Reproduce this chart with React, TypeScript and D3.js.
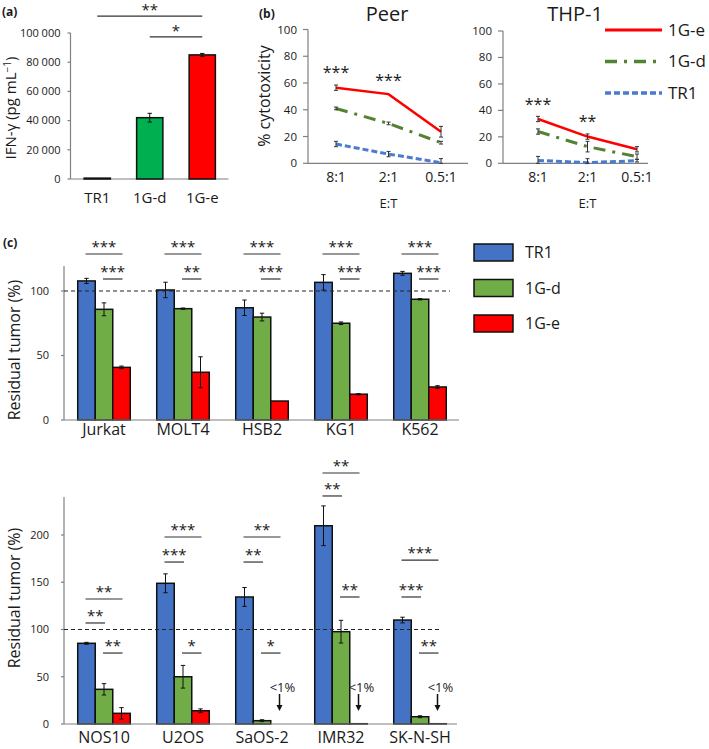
import React from 'react';
import * as d3 from 'd3';

// ---------- Panel (a) ----------
const aCategories = ['TR1', '1G-d', '1G-e'];
const aValues = [600, 42000, 85000];
const aErrors = [200, 3000, 1000];
const aTicks = [0, 20000, 40000, 60000, 80000, 100000];
const aColors = ['#FF0000', '#00B050', '#FF0000'];
const aSig = [
  { from: 0, to: 2, level: 111500, label: '**' },
  { from: 1, to: 2, level: 97300, label: '*' },
];

// ---------- Panel (b) ----------
const etRatios = ['8:1', '2:1', '0.5:1'];
const bTicks = [0, 20, 40, 60, 80, 100];
const peer1Ge = [56.5, 51.7, 23.6];
const peer1GeErr = [2, 0.5, 4];
const peer1Gd = [41, 29.8, 15.4];
const peer1GdErr = [1, 1, 1];
const peerTR1 = [14.4, 6.9, 0.5];
const peerTR1Err = [2, 2, 3];
const thp1Ge = [33.5, 20.2, 10.6];
const thp1GeErr = [2, 2, 2];
const thp1Gd = [24, 12.6, 5];
const thp1GdErr = [2, 4, 2];
const thpTR1 = [2.2, 0.5, 2];
const thpTR1Err = [3, 3, 1];
const peerStars = [
  { cat: '8:1', level: 69.6, label: '***' },
  { cat: '2:1', level: 63.7, label: '***' },
];
const thpStars = [
  { cat: '8:1', level: 46.6, label: '***' },
  { cat: '2:1', level: 33.7, label: '**' },
];

// ---------- Panel (c) ----------
const seriesNames = ['TR1', '1G-d', '1G-e'];
const seriesColors = ['#4472C4', '#70AD47', '#FF0000'];

const cTopLines = ['Jurkat', 'MOLT4', 'HSB2', 'KG1', 'K562'];
const cTopTR1 = [107.8, 100.8, 87, 106.7, 113.7];
const cTopTR1Err = [2, 6, 6, 6, 1.5];
const cTop1Gd = [85.8, 86.3, 79.8, 75, 93.6];
const cTop1GdErr = [5, 0.5, 3, 1, 0.5];
const cTop1Ge = [40.8, 37, 14.7, 20, 25.6];
const cTop1GeErr = [1, 12, 0, 0.5, 1];
const cTopTicks = [0, 50, 100];
const cTopSig = [
  { line: 'Jurkat', from: 0, to: 2, level: 128.7, label: '***' },
  { line: 'Jurkat', from: 1, to: 2, level: 109.3, label: '***' },
  { line: 'MOLT4', from: 0, to: 2, level: 128.7, label: '***' },
  { line: 'MOLT4', from: 1, to: 2, level: 109.3, label: '**' },
  { line: 'HSB2', from: 0, to: 2, level: 128.7, label: '***' },
  { line: 'HSB2', from: 1, to: 2, level: 109.3, label: '***' },
  { line: 'KG1', from: 0, to: 2, level: 128.7, label: '***' },
  { line: 'KG1', from: 1, to: 2, level: 109.3, label: '***' },
  { line: 'K562', from: 0, to: 2, level: 128.7, label: '***' },
  { line: 'K562', from: 1, to: 2, level: 109.3, label: '***' },
];

const cBotLines = ['NOS10', 'U2OS', 'SaOS-2', 'IMR32', 'SK-N-SH'];
const cBotTR1 = [85.4, 148.9, 134.4, 209.8, 110];
const cBotTR1Err = [1, 10, 10, 21, 3];
const cBot1Gd = [36.7, 50, 3.5, 97.7, 7.7];
const cBot1GdErr = [6, 12, 1, 12, 1];
const cBot1Ge = [11.3, 14, 0, 0.3, 0.3];
const cBot1GeErr = [6, 2, 0, 0, 0];
const cBotTicks = [0, 50, 100, 150, 200];
const cBotSig = [
  { line: 'NOS10', from: 0, to: 2, level: 132.3, label: '**' },
  { line: 'NOS10', from: 0, to: 1, level: 106.9, label: '**' },
  { line: 'NOS10', from: 1, to: 2, level: 75.1, label: '**' },
  { line: 'U2OS', from: 0, to: 2, level: 197.9, label: '***' },
  { line: 'U2OS', from: 0, to: 1, level: 171.4, label: '***' },
  { line: 'U2OS', from: 1, to: 2, level: 75.1, label: '*' },
  { line: 'SaOS-2', from: 0, to: 2, level: 197.9, label: '**' },
  { line: 'SaOS-2', from: 0, to: 1, level: 171.4, label: '**' },
  { line: 'SaOS-2', from: 1, to: 2, level: 75.1, label: '*' },
  { line: 'IMR32', from: 0, to: 2, level: 265.6, label: '**' },
  { line: 'IMR32', from: 0, to: 1, level: 241.3, label: '**' },
  { line: 'IMR32', from: 1, to: 2, level: 134.4, label: '**' },
  { line: 'SK-N-SH', from: 0, to: 2, level: 173.5, label: '***' },
  { line: 'SK-N-SH', from: 0, to: 1, level: 134.4, label: '***' },
  { line: 'SK-N-SH', from: 1, to: 2, level: 75.1, label: '**' },
];
const cBotBelow1 = ['SaOS-2', 'IMR32', 'SK-N-SH'];

const FONT = '"Open Sans", "Noto Sans", sans-serif';
const TEXT = '#1a1a1a';
const AXIS = '#808080';

function fmtThousands(v: number) {
  return d3.format(',')(v).replace(/,/g, ' ');
}

function ErrorBar({ x, y0, y1, cap = 2.2, color = '#111', w = 1 }: any) {
  return (
    <g stroke={color} strokeWidth={w}>
      <line x1={x} x2={x} y1={y0} y2={y1} />
      <line x1={x - cap} x2={x + cap} y1={y0} y2={y0} />
      <line x1={x - cap} x2={x + cap} y1={y1} y2={y1} />
    </g>
  );
}

function PanelA() {
  const x = d3.scaleBand().domain(aCategories).range([71, 228.5]).paddingInner(0.5).paddingOuter(0.25);
  const y = d3.scaleLinear().domain([0, 100000]).range([179, 33]);
  const axisX = 70.5;
  return (
    <g>
      <text x={2} y={16} fontSize={12} fontWeight="bold" fill={TEXT}>(a)</text>
      <line x1={axisX} x2={axisX} y1={y(100000)} y2={y(0)} stroke={AXIS} strokeWidth={1.2} />
      <line x1={axisX} x2={228.5} y1={y(0)} y2={y(0)} stroke={AXIS} strokeWidth={1.2} />
      {aTicks.map((t) => (
        <g key={t}>
          <line x1={axisX - 3} x2={axisX} y1={y(t)} y2={y(t)} stroke={AXIS} strokeWidth={1.2} />
          <text x={axisX - 10} y={y(t)} dy="0.35em" textAnchor="end" fontSize={11} fill={TEXT} style={{ whiteSpace: 'pre' }}>
            {fmtThousands(t)}
          </text>
        </g>
      ))}
      {aCategories.map((c, i) => {
        const bx = x(c)!;
        const bw = x.bandwidth();
        const cx = bx + bw / 2;
        return (
          <g key={c}>
            <rect x={bx} y={y(aValues[i])} width={bw} height={y(0) - y(aValues[i])} fill={aColors[i]} stroke="#111" strokeWidth={1.5} />
            {aErrors[i] > 500 && <ErrorBar x={cx} y0={y(aValues[i] + aErrors[i])} y1={y(aValues[i] - aErrors[i])} />}
            <text x={cx} y={203} textAnchor="middle" fontSize={15} fill={TEXT}>{c}</text>
          </g>
        );
      })}
      {aSig.map((s, i) => {
        const x1 = x(aCategories[s.from])! + x.bandwidth() / 2;
        const x2 = x(aCategories[s.to])! + x.bandwidth() / 2;
        return (
          <g key={i}>
            <line x1={x1} x2={x2} y1={y(s.level)} y2={y(s.level)} stroke="#333" strokeWidth={1.2} />
            <text x={(x1 + x2) / 2} y={y(s.level) - 1} textAnchor="middle" fontSize={15} fill={TEXT}>{s.label}</text>
          </g>
        );
      })}
      <text transform={`translate(16,${(y(0) + y(100000)) / 2 + 2}) rotate(-90)`} textAnchor="middle" fontSize={15} fill={TEXT}>
        IFN-γ (pg mL<tspan dy={-5} fontSize={10}>−1</tspan><tspan dy={5}>)</tspan>
      </text>
    </g>
  );
}

function LinePanel({ title, titleX, axisX, axisEnd, xRange, yTop, series, stars, ylabel }: any) {
  const x = d3.scalePoint().domain(etRatios).range(xRange);
  const y = d3.scaleLinear().domain([0, 100]).range([163.3, yTop]);
  const line = d3.line<number>().x((_, i) => x(etRatios[i])!).y((v) => y(v));
  return (
    <g>
      <text x={titleX} y={21} textAnchor="middle" fontSize={20} fill={TEXT}>{title}</text>
      <line x1={axisX} x2={axisX} y1={y(100)} y2={y(0)} stroke={AXIS} strokeWidth={1.2} />
      <line x1={axisX} x2={axisEnd} y1={y(0)} y2={y(0)} stroke={AXIS} strokeWidth={1.2} />
      {bTicks.map((t) => (
        <g key={t}>
          <line x1={axisX - 5} x2={axisX} y1={y(t)} y2={y(t)} stroke={AXIS} strokeWidth={1.2} />
          <text x={axisX - 11} y={y(t)} dy="0.35em" textAnchor="end" fontSize={11.5} fill={TEXT}>{t}</text>
        </g>
      ))}
      {etRatios.map((c) => (
        <text key={c} x={x(c)!} y={182} textAnchor="middle" fontSize={14} fill={TEXT}>{c}</text>
      ))}
      <text x={(xRange[0] + xRange[1]) / 2} y={208} textAnchor="middle" fontSize={13} fill={TEXT}>E:T</text>
      {series.map((s: any, si: number) => (
        <g key={si}>
          <path d={line(s.values)!} fill="none" stroke={s.color} strokeWidth={s.width} strokeDasharray={s.dash} />
          {s.values.map((v: number, i: number) =>
            s.errs[i] > 0.6 ? (
              <ErrorBar key={i} x={x(etRatios[i])!} y0={y(v + s.errs[i])} y1={y(Math.max(0, v - s.errs[i]))} cap={2} color="#333" w={1} />
            ) : null
          )}
        </g>
      ))}
      {stars.map((s: any, i: number) => (
        <text key={i} x={x(s.cat)!} y={y(s.level) + 8} textAnchor="middle" fontSize={16} fill={TEXT}>{s.label}</text>
      ))}
      {ylabel && (
        <text transform={`translate(${axisX - 38},96) rotate(-90)`} textAnchor="middle" fontSize={16} fill={TEXT}>{ylabel}</text>
      )}
    </g>
  );
}

const lineStyles = [
  { name: '1G-e', color: '#FF0000', width: 2.5, dash: undefined },
  { name: '1G-d', color: '#548235', width: 3, dash: '12,7,3,7' },
  { name: 'TR1', color: '#4A7BD0', width: 3, dash: '6,3' },
];

function PanelB() {
  const peerSeries = [
    { ...lineStyles[0], values: peer1Ge, errs: peer1GeErr },
    { ...lineStyles[1], values: peer1Gd, errs: peer1GdErr },
    { ...lineStyles[2], values: peerTR1, errs: peerTR1Err },
  ];
  const thpSeries = [
    { ...lineStyles[0], values: thp1Ge, errs: thp1GeErr },
    { ...lineStyles[1], values: thp1Gd, errs: thp1GdErr },
    { ...lineStyles[2], values: thpTR1, errs: thpTR1Err },
  ];
  return (
    <g>
      <text x={259} y={18} fontSize={12} fontWeight="bold" fill={TEXT}>(b)</text>
      <LinePanel title="Peer" titleX={387} axisX={308} axisEnd={468} xRange={[336, 441]} yTop={29.5}
        series={peerSeries} stars={peerStars} ylabel="% cytotoxicity" />
      <LinePanel title="THP-1" titleX={575} axisX={503} axisEnd={648} xRange={[538, 637]} yTop={31}
        series={thpSeries} stars={thpStars} ylabel={null} />
      {lineStyles.map((s, i) => {
        const ly = 30 + i * 31.5;
        return (
          <g key={s.name}>
            <line x1={605} x2={662} y1={ly} y2={ly} stroke={s.color} strokeWidth={s.width + 0.5} strokeDasharray={s.dash} />
            <text x={668} y={ly} dy="0.35em" fontSize={17} fill={TEXT}>{s.name}</text>
          </g>
        );
      })}
    </g>
  );
}

function GroupedBars({ lines, values, errors, yDomainTop, yRangeTop, baseY, ticks, axisTop, axisEnd, dashEnd, sig, labelY, ylabelY, below1 }: any) {
  const x = d3.scaleBand().domain(lines).range([64.5, 459.5]).paddingInner(0.335).paddingOuter(0.1675);
  const xs = d3.scaleBand().domain(seriesNames).range([0, x.bandwidth()]);
  const y = d3.scaleLinear().domain([0, yDomainTop]).range([baseY, yRangeTop]);
  const axisX = 64;
  const barCenter = (line: string, si: number) => x(line)! + xs(seriesNames[si])! + xs.bandwidth() / 2;
  return (
    <g>
      <line x1={axisX} x2={axisX} y1={axisTop} y2={baseY} stroke={AXIS} strokeWidth={1.2} />
      {ticks.map((t: number) => (
        <g key={t}>
          <line x1={axisX - 3} x2={axisX} y1={y(t)} y2={y(t)} stroke={AXIS} strokeWidth={1.2} />
          <text x={axisX - 15} y={y(t)} dy="0.35em" textAnchor="end" fontSize={11} fill={TEXT}>{t}</text>
        </g>
      ))}
      {lines.map((l: string, li: number) => (
        <g key={l}>
          {seriesNames.map((s, si) => {
            const v = values[si][li];
            if (v <= 0) return null;
            const bx = x(l)! + xs(s)!;
            return (
              <rect key={s} x={bx} y={y(v)} width={xs.bandwidth()} height={baseY - y(v)} fill={seriesColors[si]} stroke="#111" strokeWidth={1.5} />
            );
          })}
          {seriesNames.map((s, si) => {
            const v = values[si][li];
            const e = errors[si][li];
            if (v <= 0 || e <= 0) return null;
            return <ErrorBar key={s} x={barCenter(l, si)} y0={y(v + e)} y1={y(Math.max(0, v - e))} cap={2.2} />;
          })}
          <text x={x(l)! + x.bandwidth() / 2} y={labelY} textAnchor="middle" fontSize={16} fill={TEXT}>{l}</text>
        </g>
      ))}
      <line x1={axisX} x2={dashEnd} y1={y(100)} y2={y(100)} stroke="#222" strokeWidth={1} strokeDasharray="4,3" />
      <line x1={axisX} x2={axisEnd} y1={baseY} y2={baseY} stroke={AXIS} strokeWidth={1.2} />
      {sig.map((s: any, i: number) => {
        const x1 = barCenter(s.line, s.from) - 1;
        const x2 = barCenter(s.line, s.to) + 1;
        return (
          <g key={i}>
            <line x1={x1} x2={x2} y1={y(s.level)} y2={y(s.level)} stroke="#333" strokeWidth={1.2} />
            <text x={(x1 + x2) / 2} y={y(s.level) - 2} textAnchor="middle" fontSize={15} fill={TEXT}>{s.label}</text>
          </g>
        );
      })}
      {below1 && below1.map((l: string) => {
        const cx = barCenter(l, 2);
        return (
          <g key={l}>
            <text x={cx + 3} y={y(0) - 32} textAnchor="middle" fontSize={13} fill={TEXT}>&lt;1%</text>
            <line x1={cx} x2={cx} y1={y(0) - 30} y2={y(0) - 18} stroke="#111" strokeWidth={1.5} />
            <path d={`M${cx - 3},${y(0) - 19} L${cx + 3},${y(0) - 19} L${cx},${y(0) - 13} Z`} fill="#111" />
          </g>
        );
      })}
      <text transform={`translate(20,${ylabelY}) rotate(-90)`} textAnchor="middle" fontSize={16} fill={TEXT}>Residual tumor (%)</text>
    </g>
  );
}

function PanelC() {
  return (
    <g>
      <text x={3} y={247} fontSize={12} fontWeight="bold" fill={TEXT}>(c)</text>
      <GroupedBars lines={cTopLines}
        values={[cTopTR1, cTop1Gd, cTop1Ge]} errors={[cTopTR1Err, cTop1GdErr, cTop1GeErr]}
        yDomainTop={100} yRangeTop={291} baseY={420} ticks={cTopTicks} axisTop={266} axisEnd={459} dashEnd={450}
        sig={cTopSig} labelY={435} ylabelY={350} below1={null} />
      <GroupedBars lines={cBotLines}
        values={[cBotTR1, cBot1Gd, cBot1Ge]} errors={[cBotTR1Err, cBot1GdErr, cBot1GeErr]}
        yDomainTop={200} yRangeTop={535} baseY={724} ticks={cBotTicks} axisTop={497} axisEnd={457} dashEnd={440}
        sig={cBotSig} labelY={743} ylabelY={598} below1={cBotBelow1} />
      {seriesNames.map((s, i) => {
        const top = 244 + i * 35.5;
        return (
          <g key={s}>
            <rect x={474} y={top} width={39} height={17} fill={seriesColors[i]} stroke="#111" strokeWidth={1.5} />
            <text x={525} y={top + 8.5} dy="0.35em" fontSize={16} fill={TEXT}>{s}</text>
          </g>
        );
      })}
    </g>
  );
}

export default function App() {
  return (
    <svg width={709} height={749} viewBox="0 0 709 749"
      style={{ position: 'absolute', left: 0, top: 0, background: '#fff', fontFamily: FONT }}>
      <rect width={709} height={749} fill="#fff" />
      <PanelA />
      <PanelB />
      <PanelC />
    </svg>
  );
}
